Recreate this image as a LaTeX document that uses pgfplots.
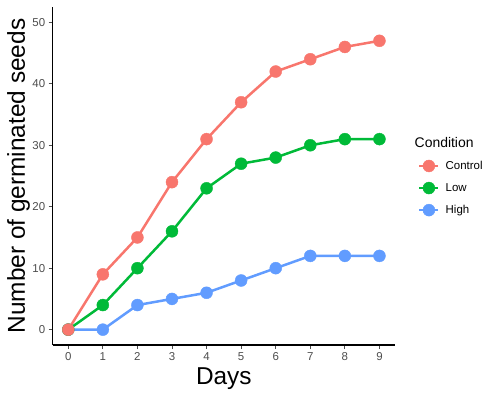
\documentclass[border=0pt]{standalone}
\usepackage{pgfplots}
\pgfplotsset{compat=1.18}
\usepackage{fontspec}
\setmainfont{Liberation Sans}
\definecolor{cctrl}{HTML}{F8766D}
\definecolor{clow}{HTML}{00BA38}
\definecolor{chigh}{HTML}{619CFF}
\definecolor{tickgray}{HTML}{4D4D4D}
\pgfplotstableread{
day control low high
0 0 0 0
1 9 4 0
2 15 10 4
3 24 16 5
4 31 23 6
5 37 27 8
6 42 28 10
7 44 30 12
8 46 31 12
9 47 31 12
}\seeds
\pgfplotsset{keyimg/.style={legend image code/.code={
  \draw[line width=2.5bp] (0bp,0bp) -- (19bp,0bp);
  \fill (9.5bp,0bp) circle (6bp);}}}
\begin{document}
\begin{tikzpicture}[x=1bp,y=1bp]
\useasboundingbox (-52.7,-52) rectangle (447.3,345);
\begin{axis}[at={(0,0)},anchor=south west, scale only axis,
  width=342.3bp, height=338bp,
  xmin=-0.45, xmax=9.45, ymin=-2.5, ymax=52.5,
  axis x line*=bottom, axis y line*=left,
  axis line style={line width=1.1bp, black},
  xtick={0,...,9}, ytick={0,10,...,50},
  tick align=outside, major tick length=4bp,
  tick style={line width=0.8bp, color=tickgray},
  ticklabel style={font=\fontsize{11.5}{13}\selectfont, color=tickgray},
  /pgf/number format/assume math mode=true,
  xlabel={Days}, ylabel={Number of germinated seeds},
  label style={font=\fontsize{24.5}{28}\selectfont},
  xlabel style={at={(axis description cs:0.5,-0.1183)}, anchor=base},
  ylabel style={at={(axis description cs:-0.081,0.5)}, anchor=base},
  legend style={at={(1,0.5)}, anchor=west, xshift=20bp, draw=none, fill=none,
    font=\fontsize{11.5}{13}\selectfont, row sep=8.5bp, cells={anchor=west},
    /tikz/every odd column/.append style={column sep=4bp}},
  legend cell align=left,
  clip=false,
]
\addlegendimage{empty legend}
\addlegendentry{\hspace*{-31bp}\fontsize{14}{16}\selectfont Condition\rule[-4bp]{0pt}{4bp}}
\addlegendimage{cctrl, keyimg}
\addlegendentry{Control}
\addlegendimage{clow, keyimg}
\addlegendentry{Low}
\addlegendimage{chigh, keyimg}
\addlegendentry{High}
\addplot[forget plot, cctrl, line width=2.5bp] table[x=day,y=control]{\seeds};
\addplot[forget plot, clow, line width=2.5bp] table[x=day,y=low]{\seeds};
\addplot[forget plot, chigh, line width=2.5bp] table[x=day,y=high]{\seeds};
\addplot[forget plot, only marks, chigh, mark=*, mark size=6bp] table[x=day,y=high]{\seeds};
\addplot[forget plot, only marks, clow, mark=*, mark size=6bp] table[x=day,y=low]{\seeds};
\addplot[forget plot, only marks, cctrl, mark=*, mark size=6bp] table[x=day,y=control]{\seeds};
\end{axis}
\end{tikzpicture}
\end{document}
